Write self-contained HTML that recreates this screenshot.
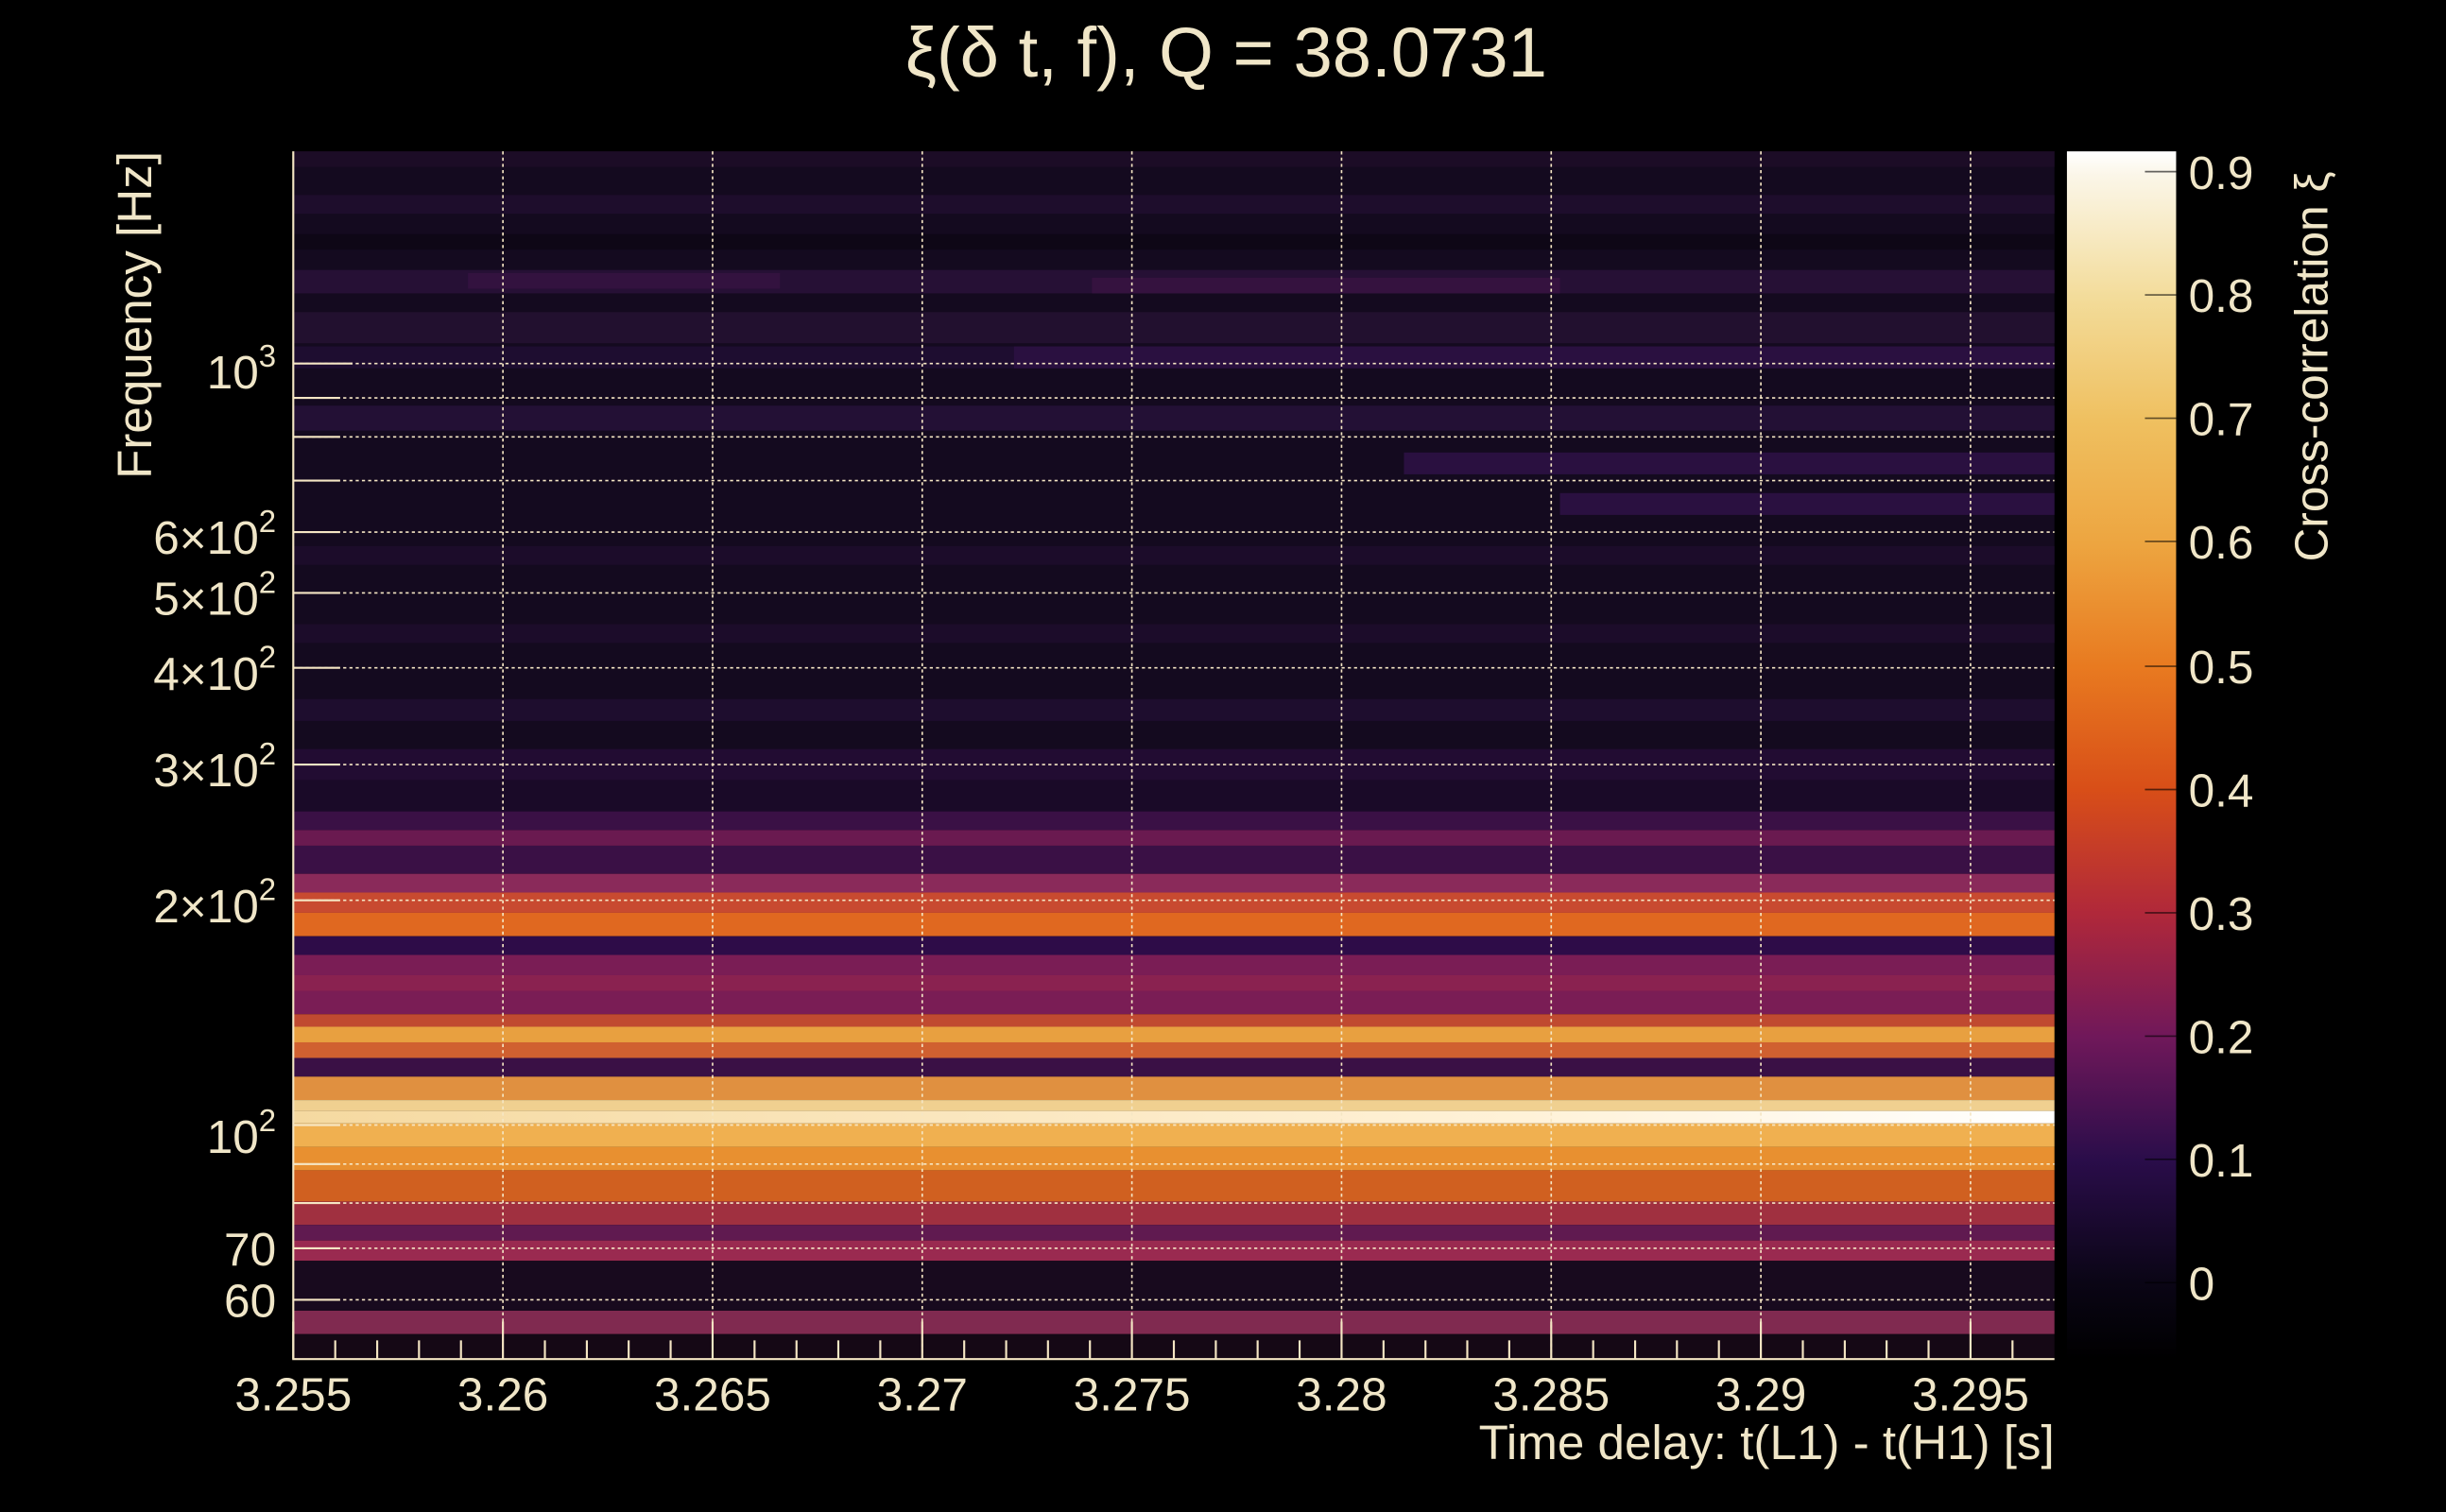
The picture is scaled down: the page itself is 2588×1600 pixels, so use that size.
<!DOCTYPE html>
<html><head><meta charset="utf-8"><style>
html,body{margin:0;padding:0;background:#000;}
svg{display:block;}
text{font-family:"Liberation Sans",sans-serif;fill:#f0e6c8;}
</style></head><body>
<svg width="2588" height="1600" viewBox="0 0 1568 969" preserveAspectRatio="none" xmlns="http://www.w3.org/2000/svg">
<defs>
<linearGradient id="cb" x1="0" y1="1" x2="0" y2="0">
<stop offset="0" stop-color="#000000"/>
<stop offset="0.063" stop-color="#0a0515"/>
<stop offset="0.165" stop-color="#2a0d4a"/>
<stop offset="0.267" stop-color="#70185a"/>
<stop offset="0.369" stop-color="#b0283a"/>
<stop offset="0.471" stop-color="#d84e18"/>
<stop offset="0.573" stop-color="#e87a20"/>
<stop offset="0.675" stop-color="#eda540"/>
<stop offset="0.777" stop-color="#efc060"/>
<stop offset="0.879" stop-color="#f3dc9a"/>
<stop offset="0.98" stop-color="#fbf6e8"/>
<stop offset="1" stop-color="#ffffff"/>
</linearGradient>
<linearGradient id="wh" x1="0" x2="1"><stop offset="0" stop-color="#f5d9a0"/><stop offset="0.7" stop-color="#fff2d8"/><stop offset="1" stop-color="#ffffff"/></linearGradient>
</defs>
<rect width="1568" height="969" fill="#000"/>
<text x="786" y="49" font-size="45" text-anchor="middle">ξ(δ t, f), Q = 38.0731</text>
<g>
<rect x="188" y="97" width="1129" height="383" fill="#140a1f"/>
<rect x="188" y="97" width="1129" height="10" fill="#1c0c26"/>
<rect x="188" y="125" width="1129" height="12" fill="#1e0d2c"/>
<rect x="188" y="150" width="1129" height="10" fill="#0e0716"/>
<rect x="188" y="173" width="1129" height="15" fill="#261035"/>
<rect x="300" y="175" width="200" height="10" fill="#33123f"/>
<rect x="700" y="178" width="300" height="10" fill="#35123f"/>
<rect x="188" y="200" width="1129" height="20" fill="#22102f"/>
<rect x="188" y="222" width="1129" height="14" fill="#1e0d30"/>
<rect x="650" y="222" width="667" height="14" fill="#2a1040"/>
<rect x="188" y="260" width="1129" height="16" fill="#231035"/>
<rect x="900" y="290" width="417" height="14" fill="#2a1040"/>
<rect x="1000" y="316" width="317" height="14" fill="#2a1040"/>
<rect x="188" y="350" width="1129" height="12" fill="#1c0c2a"/>
<rect x="188" y="400" width="1129" height="12" fill="#1c0c2a"/>
<rect x="188" y="448" width="1129" height="14" fill="#1e0d2e"/>
<rect x="188" y="480" width="1129" height="20" fill="#220c32"/>
<rect x="188" y="500" width="1129" height="20" fill="#1a0a28"/>
<rect x="188" y="520" width="1129" height="12" fill="#3a1045"/>
<rect x="188" y="532" width="1129" height="10" fill="#6a1a50"/>
<rect x="188" y="542" width="1129" height="18" fill="#3a1045"/>
<rect x="188" y="560" width="1129" height="12" fill="#8a2a5a"/>
<rect x="188" y="572" width="1129" height="13" fill="#c84a30"/>
<rect x="188" y="585" width="1129" height="15" fill="#e06820"/>
<rect x="188" y="600" width="1129" height="12" fill="#2e0c48"/>
<rect x="188" y="612" width="1129" height="38" fill="#7a1d55"/>
<rect x="188" y="625" width="1129" height="10" fill="#8a2250"/>
<rect x="188" y="650" width="1129" height="8" fill="#c04a30"/>
<rect x="188" y="658" width="1129" height="10" fill="#e8a040"/>
<rect x="188" y="668" width="1129" height="10" fill="#d06030"/>
<rect x="188" y="678" width="1129" height="12" fill="#3a1045"/>
<rect x="188" y="690" width="1129" height="15" fill="#e09040"/>
<rect x="188" y="705" width="1129" height="7" fill="#f0d090"/>
<rect x="188" y="712" width="1129" height="8" fill="url(#wh)"/>
<rect x="188" y="720" width="1129" height="15" fill="#f0b050"/>
<rect x="188" y="735" width="1129" height="15" fill="#e89030"/>
<rect x="188" y="750" width="1129" height="20" fill="#d06020"/>
<rect x="188" y="770" width="1129" height="15" fill="#a03040"/>
<rect x="188" y="785" width="1129" height="10" fill="#601a50"/>
<rect x="188" y="795" width="1129" height="13" fill="#9a2a50"/>
<rect x="188" y="808" width="1129" height="32" fill="#180a1e"/>
<rect x="188" y="840" width="1129" height="15" fill="#802a50"/>
<rect x="188" y="855" width="1129" height="16" fill="#150815"/>
</g>
<g stroke="#f5e6c4" stroke-width="1" stroke-dasharray="2,2" fill="none">
<path d="M322.4 97V871M456.8 97V871M591.2 97V871M725.6 97V871M860 97V871M994.4 97V871M1128.8 97V871M1263.2 97V871"/>
<path d="M188 833H1317M188 800H1317M188 771H1317M188 746H1317M188 721H1317M188 577H1317M188 490H1317M188 428H1317M188 380H1317M188 341H1317M188 308H1317M188 280H1317M188 255H1317M188 233H1317"/>
</g>
<g stroke="#f5e6c4" stroke-width="1.3" fill="none">
<path d="M188 97V871H1317"/>
<path d="M188 833h30M188 800h30M188 771h30M188 746h30M188 721h30M188 577h30M188 490h30M188 428h30M188 380h30M188 341h30M188 308h30M188 280h30M188 255h30M188 233h38"/>
<path d="M188 871v-24M322.4 871v-24M456.8 871v-24M591.2 871v-24M725.6 871v-24M860 871v-24M994.4 871v-24M1128.8 871v-24M1263.2 871v-24"/>
<path d="M214.9 871v-12M241.8 871v-12M268.6 871v-12M295.5 871v-12M349.3 871v-12M376.2 871v-12M403 871v-12M429.9 871v-12M483.7 871v-12M510.6 871v-12M537.4 871v-12M564.3 871v-12M618.1 871v-12M645 871v-12M671.8 871v-12M698.7 871v-12M752.5 871v-12M779.4 871v-12M806.2 871v-12M833.1 871v-12M886.9 871v-12M913.8 871v-12M940.6 871v-12M967.5 871v-12M1021.3 871v-12M1048.2 871v-12M1075 871v-12M1101.9 871v-12M1155.7 871v-12M1182.6 871v-12M1209.4 871v-12M1236.3 871v-12M1290.1 871v-12"/>
</g>
<g font-size="30" text-anchor="middle">
<text x="188" y="904">3.255</text><text x="322.4" y="904">3.26</text><text x="456.8" y="904">3.265</text><text x="591.2" y="904">3.27</text><text x="725.6" y="904">3.275</text><text x="860" y="904">3.28</text><text x="994.4" y="904">3.285</text><text x="1128.8" y="904">3.29</text><text x="1263.2" y="904">3.295</text>
</g>
<text x="1317" y="935" font-size="31" text-anchor="end">Time delay: t(L1) - t(H1) [s]</text>
<g font-size="30" text-anchor="end">
<text x="177" y="844">60</text><text x="177" y="811">70</text>
<text x="177" y="739">10<tspan font-size="20" dy="-14">2</tspan></text>
<text x="177" y="591">2×10<tspan font-size="20" dy="-14">2</tspan></text>
<text x="177" y="504">3×10<tspan font-size="20" dy="-14">2</tspan></text>
<text x="177" y="442">4×10<tspan font-size="20" dy="-14">2</tspan></text>
<text x="177" y="394">5×10<tspan font-size="20" dy="-14">2</tspan></text>
<text x="177" y="355">6×10<tspan font-size="20" dy="-14">2</tspan></text>
<text x="177" y="249">10<tspan font-size="20" dy="-14">3</tspan></text>
</g>
<text transform="translate(97,307) rotate(-90)" font-size="31">Frequency [Hz]</text>
<rect x="1325" y="97" width="70" height="774" fill="url(#cb)"/>
<g stroke="#000" stroke-width="1" opacity="0.6">
<path d="M1375 110h20M1375 189h20M1375 268h20M1375 347h20M1375 427h20M1375 506h20M1375 585h20M1375 664h20M1375 743h20M1375 822h20"/>
</g>
<g font-size="30">
<text x="1403" y="121">0.9</text><text x="1403" y="200">0.8</text><text x="1403" y="279">0.7</text><text x="1403" y="358">0.6</text><text x="1403" y="438">0.5</text><text x="1403" y="517">0.4</text><text x="1403" y="596">0.3</text><text x="1403" y="675">0.2</text><text x="1403" y="754">0.1</text><text x="1403" y="833">0</text>
</g>
<text transform="translate(1492,360) rotate(-90)" font-size="30">Cross-correlation ξ</text>
</svg>
</body></html>
